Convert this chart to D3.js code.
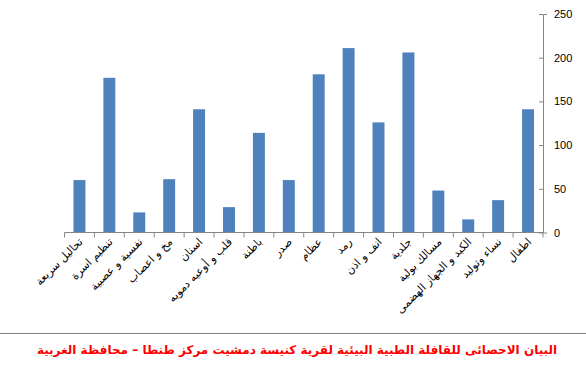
<!DOCTYPE html>
<html>
<head>
<meta charset="utf-8">
<script src="https://d3js.org/d3.v7.min.js"></script>
<style>
  body { margin: 0; background: #fff; }
  svg { display: block; }
</style>
</head>
<body>
<svg id="chart"></svg>
<script>
// categories left to right as drawn
var categories = ["تحاليل سريعة", "تنظيم اسرة", "نفسية و عصبية", "مخ و اعصاب", "اسنان",
  "قلب و أوعيه دمويه", "باطنة", "صدر", "عظام", "رمد", "انف و اذن", "جلدية",
  "مسالك بولية", "الكبد و الجهاز الهضمى", "نساء وتوليد", "اطفال"];
var values = [60, 177, 23, 61, 141, 29, 114, 60, 181, 211, 126, 206, 48, 15, 37, 141];
var yTicks = [0, 50, 100, 150, 200, 250];
var title = "البيان الاحصائى للقافلة الطبية البيئية لقرية كنيسة دمشيت مركز طنطا – محافظة الغربية";

var W = 586, H = 369;
var svg = d3.select("#chart").attr("width", W).attr("height", H);

var x = d3.scaleBand().domain(categories).range([64.5, 543]).paddingInner(0.6).paddingOuter(0.3);
var y = d3.scaleLinear().domain([0, 250]).range([232.5, 14]);

svg.selectAll(".bar")
  .data(values)
  .enter().append("rect")
  .attr("class", "bar")
  .attr("x", (d, i) => x(categories[i]))
  .attr("width", x.bandwidth())
  .attr("y", d => y(d))
  .attr("height", d => y(0) - y(d))
  .style("fill", "#4f81bd");

// right value axis
var yAxis = svg.append("g")
  .attr("transform", "translate(543,0)")
  .call(d3.axisRight(y).tickValues(yTicks).tickSize(4).tickPadding(7));
yAxis.select(".domain").attr("stroke", "#868686");
yAxis.selectAll(".tick line").attr("stroke", "#868686").attr("x1", -4).attr("x2", 0);
yAxis.selectAll(".tick text").style("font-family", "Liberation Sans, Arial, sans-serif")
  .style("font-size", "11px").attr("fill", "#000");

// category axis
var xAxisG = svg.append("g").attr("transform", "translate(0,232.5)");
xAxisG.append("line").attr("x1", 64.5).attr("x2", 543).attr("stroke", "#868686");
var bounds = d3.range(categories.length + 1).map(i => 64.5 + i * (543 - 64.5) / categories.length);
xAxisG.selectAll(".xt").data(bounds).enter().append("line")
  .attr("x1", d => d).attr("x2", d => d).attr("y1", 0).attr("y2", 5)
  .attr("stroke", "#868686");

xAxisG.selectAll(".xl")
  .data(categories)
  .enter().append("text")
  .attr("transform", d => "translate(" + (x(d) + x.bandwidth() / 2 + 4) + ",10) rotate(-45)")
  .attr("text-anchor", "end")
  .attr("direction", "ltr")
  .style("font-family", "DejaVu Sans, sans-serif")
  .style("font-size", "11px")
  .attr("fill", "#000")
  .text(d => d);

// separator and title
svg.append("line").attr("x1", 0).attr("x2", W).attr("y1", 333.5).attr("y2", 333.5)
  .attr("stroke", "#808080").attr("stroke-width", 1);
svg.append("text")
  .attr("x", 297).attr("y", 354)
  .attr("text-anchor", "middle")
  .style("font-family", "DejaVu Sans, sans-serif")
  .style("font-size", "12px")
  .style("font-weight", "bold")
  .attr("fill", "#ff0000")
  .text(title);
</script>
</body>
</html>
